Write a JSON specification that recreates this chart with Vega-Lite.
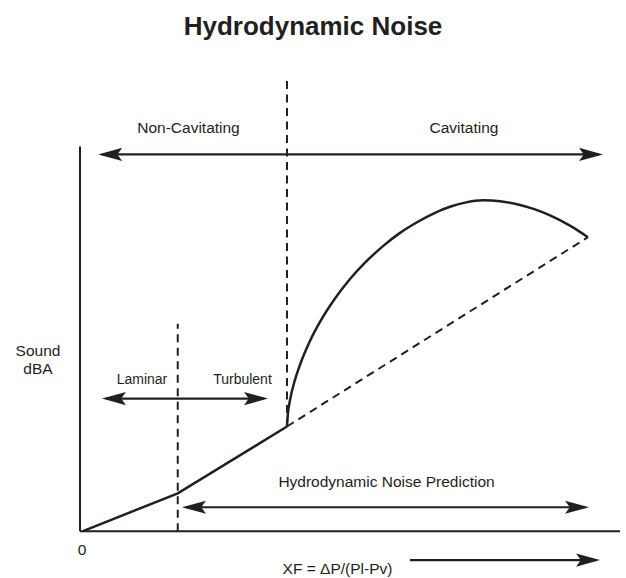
{
  "$schema": "https://vega.github.io/schema/vega-lite/v6.json",
  "width": 626,
  "height": 578,
  "autosize": {"type": "fit", "contains": "padding"},
  "padding": 0,
  "background": "white",
  "config": {"view": {"stroke": null}, "font": "Liberation Sans"},
  "datasets": {
    "axes": [
      {"x": 0, "y": 0, "x2": 0, "y2": 100},
      {"x": 0, "y": 0, "x2": 100, "y2": 0}
    ],
    "segments": [
      {"i": 1, "x": 0.56, "y": 0},
      {"i": 2, "x": 18.1, "y": 9.84},
      {"i": 3, "x": 38.33, "y": 27.2}
    ],
    "curve": [
      {"i": 1, "x": 38.33, "y": 27.2},
      {"i": 2, "x": 38.52, "y": 30.8},
      {"i": 3, "x": 38.89, "y": 34.07},
      {"i": 4, "x": 39.81, "y": 39.35},
      {"i": 5, "x": 40.74, "y": 43.26},
      {"i": 6, "x": 42.59, "y": 49.43},
      {"i": 7, "x": 44.44, "y": 54.38},
      {"i": 8, "x": 47.22, "y": 60.47},
      {"i": 9, "x": 50.0, "y": 65.54},
      {"i": 10, "x": 52.78, "y": 69.79},
      {"i": 11, "x": 56.11, "y": 74.09},
      {"i": 12, "x": 59.26, "y": 77.54},
      {"i": 13, "x": 62.41, "y": 80.31},
      {"i": 14, "x": 65.74, "y": 82.77},
      {"i": 15, "x": 68.52, "y": 84.33},
      {"i": 16, "x": 71.3, "y": 85.41},
      {"i": 17, "x": 74.63, "y": 86.01},
      {"i": 18, "x": 77.78, "y": 85.75},
      {"i": 19, "x": 80.93, "y": 85.0},
      {"i": 20, "x": 84.26, "y": 83.65},
      {"i": 21, "x": 87.04, "y": 82.1},
      {"i": 22, "x": 90.74, "y": 79.43},
      {"i": 23, "x": 94.07, "y": 76.42}
    ],
    "dashed": [
      {"x": 18.1, "y": 0, "x2": 18.1, "y2": 53.89},
      {"x": 38.33, "y": 27.2, "x2": 38.33, "y2": 117.62},
      {"x": 38.33, "y": 27.2, "x2": 94.07, "y2": 76.42}
    ],
    "shafts": [
      {"x": 4.1, "x2": 96.1, "y": 97.93},
      {"x": 4.8, "x2": 34.1, "y": 34.46},
      {"x": 19.6, "x2": 93.5, "y": 6.22},
      {"x": 61.11, "x2": 95.6, "y": -7.51}
    ],
    "headsRight": [
      {"x": 96.85, "y": 97.93},
      {"x": 34.81, "y": 34.46},
      {"x": 94.26, "y": 6.22},
      {"x": 96.3, "y": -7.51}
    ],
    "headsLeft": [
      {"x": 3.37, "y": 97.93},
      {"x": 4.07, "y": 34.46},
      {"x": 18.89, "y": 6.22}
    ],
    "labels": [
      {"kind": "title", "x": 43.15, "y": 129.0, "text": "Hydrodynamic Noise"},
      {"kind": "main", "x": 20.09, "y": 103.63, "text": "Non-Cavitating"},
      {"kind": "main", "x": 71.11, "y": 103.63, "text": "Cavitating"},
      {"kind": "main", "x": 56.76, "y": 11.4, "text": "Hydrodynamic Noise Prediction"},
      {"kind": "main", "x": 47.69, "y": -11.14, "text": "XF = ΔP/(Pl-Pv)"},
      {"kind": "main", "x": -7.78, "y": 45.6, "text": "Sound"},
      {"kind": "main", "x": -7.78, "y": 40.93, "text": "dBA"},
      {"kind": "main", "x": 0.37, "y": -6.22, "text": "0"},
      {"kind": "small", "x": 11.48, "y": 38.34, "text": "Laminar"},
      {"kind": "small", "x": 30.09, "y": 38.34, "text": "Turbulent"}
    ]
  },
  "encoding": {
    "x": {"field": "x", "type": "quantitative", "scale": {"domain": [-14.815, 101.111], "nice": false, "zero": false}, "axis": null},
    "y": {"field": "y", "type": "quantitative", "scale": {"domain": [-11.658, 138.083], "nice": false, "zero": false}, "axis": null}
  },
  "layer": [
    {
      "data": {"name": "axes"},
      "mark": {"type": "rule", "color": "#231f20", "strokeWidth": 2},
      "encoding": {"x2": {"field": "x2"}, "y2": {"field": "y2"}}
    },
    {
      "data": {"name": "dashed"},
      "mark": {"type": "rule", "color": "#231f20", "strokeWidth": 2, "strokeDash": [8, 5.5]},
      "encoding": {"x2": {"field": "x2"}, "y2": {"field": "y2"}}
    },
    {
      "data": {"name": "segments"},
      "mark": {"type": "line", "color": "#231f20", "strokeWidth": 2.5, "interpolate": "linear", "strokeJoin": "miter"},
      "encoding": {"order": {"field": "i"}}
    },
    {
      "data": {"name": "curve"},
      "mark": {"type": "line", "color": "#231f20", "strokeWidth": 2.5, "interpolate": "monotone"},
      "encoding": {"order": {"field": "i"}}
    },
    {
      "data": {"name": "shafts"},
      "mark": {"type": "rule", "color": "#231f20", "strokeWidth": 2.2},
      "encoding": {"x2": {"field": "x2"}}
    },
    {
      "data": {"name": "headsRight"},
      "mark": {"type": "point", "shape": "M0,0 L-2,-0.55 L-1.6,0 L-2,0.55 Z", "size": 576, "filled": true, "color": "#231f20", "opacity": 1, "strokeWidth": 0}
    },
    {
      "data": {"name": "headsLeft"},
      "mark": {"type": "point", "shape": "M0,0 L2,-0.55 L1.6,0 L2,0.55 Z", "size": 576, "filled": true, "color": "#231f20", "opacity": 1, "strokeWidth": 0}
    },
    {
      "data": {"name": "labels"},
      "transform": [{"filter": "datum.kind === 'title'"}],
      "mark": {"type": "text", "font": "Liberation Sans", "fontWeight": "bold", "fontSize": 26, "align": "center", "baseline": "alphabetic", "color": "#231f20"},
      "encoding": {"text": {"field": "text"}}
    },
    {
      "data": {"name": "labels"},
      "transform": [{"filter": "datum.kind === 'main'"}],
      "mark": {"type": "text", "font": "Liberation Sans", "fontSize": 15.5, "align": "center", "baseline": "alphabetic", "color": "#231f20"},
      "encoding": {"text": {"field": "text"}}
    },
    {
      "data": {"name": "labels"},
      "transform": [{"filter": "datum.kind === 'small'"}],
      "mark": {"type": "text", "font": "Liberation Sans", "fontSize": 14, "align": "center", "baseline": "alphabetic", "color": "#231f20"},
      "encoding": {"text": {"field": "text"}}
    }
  ]
}
